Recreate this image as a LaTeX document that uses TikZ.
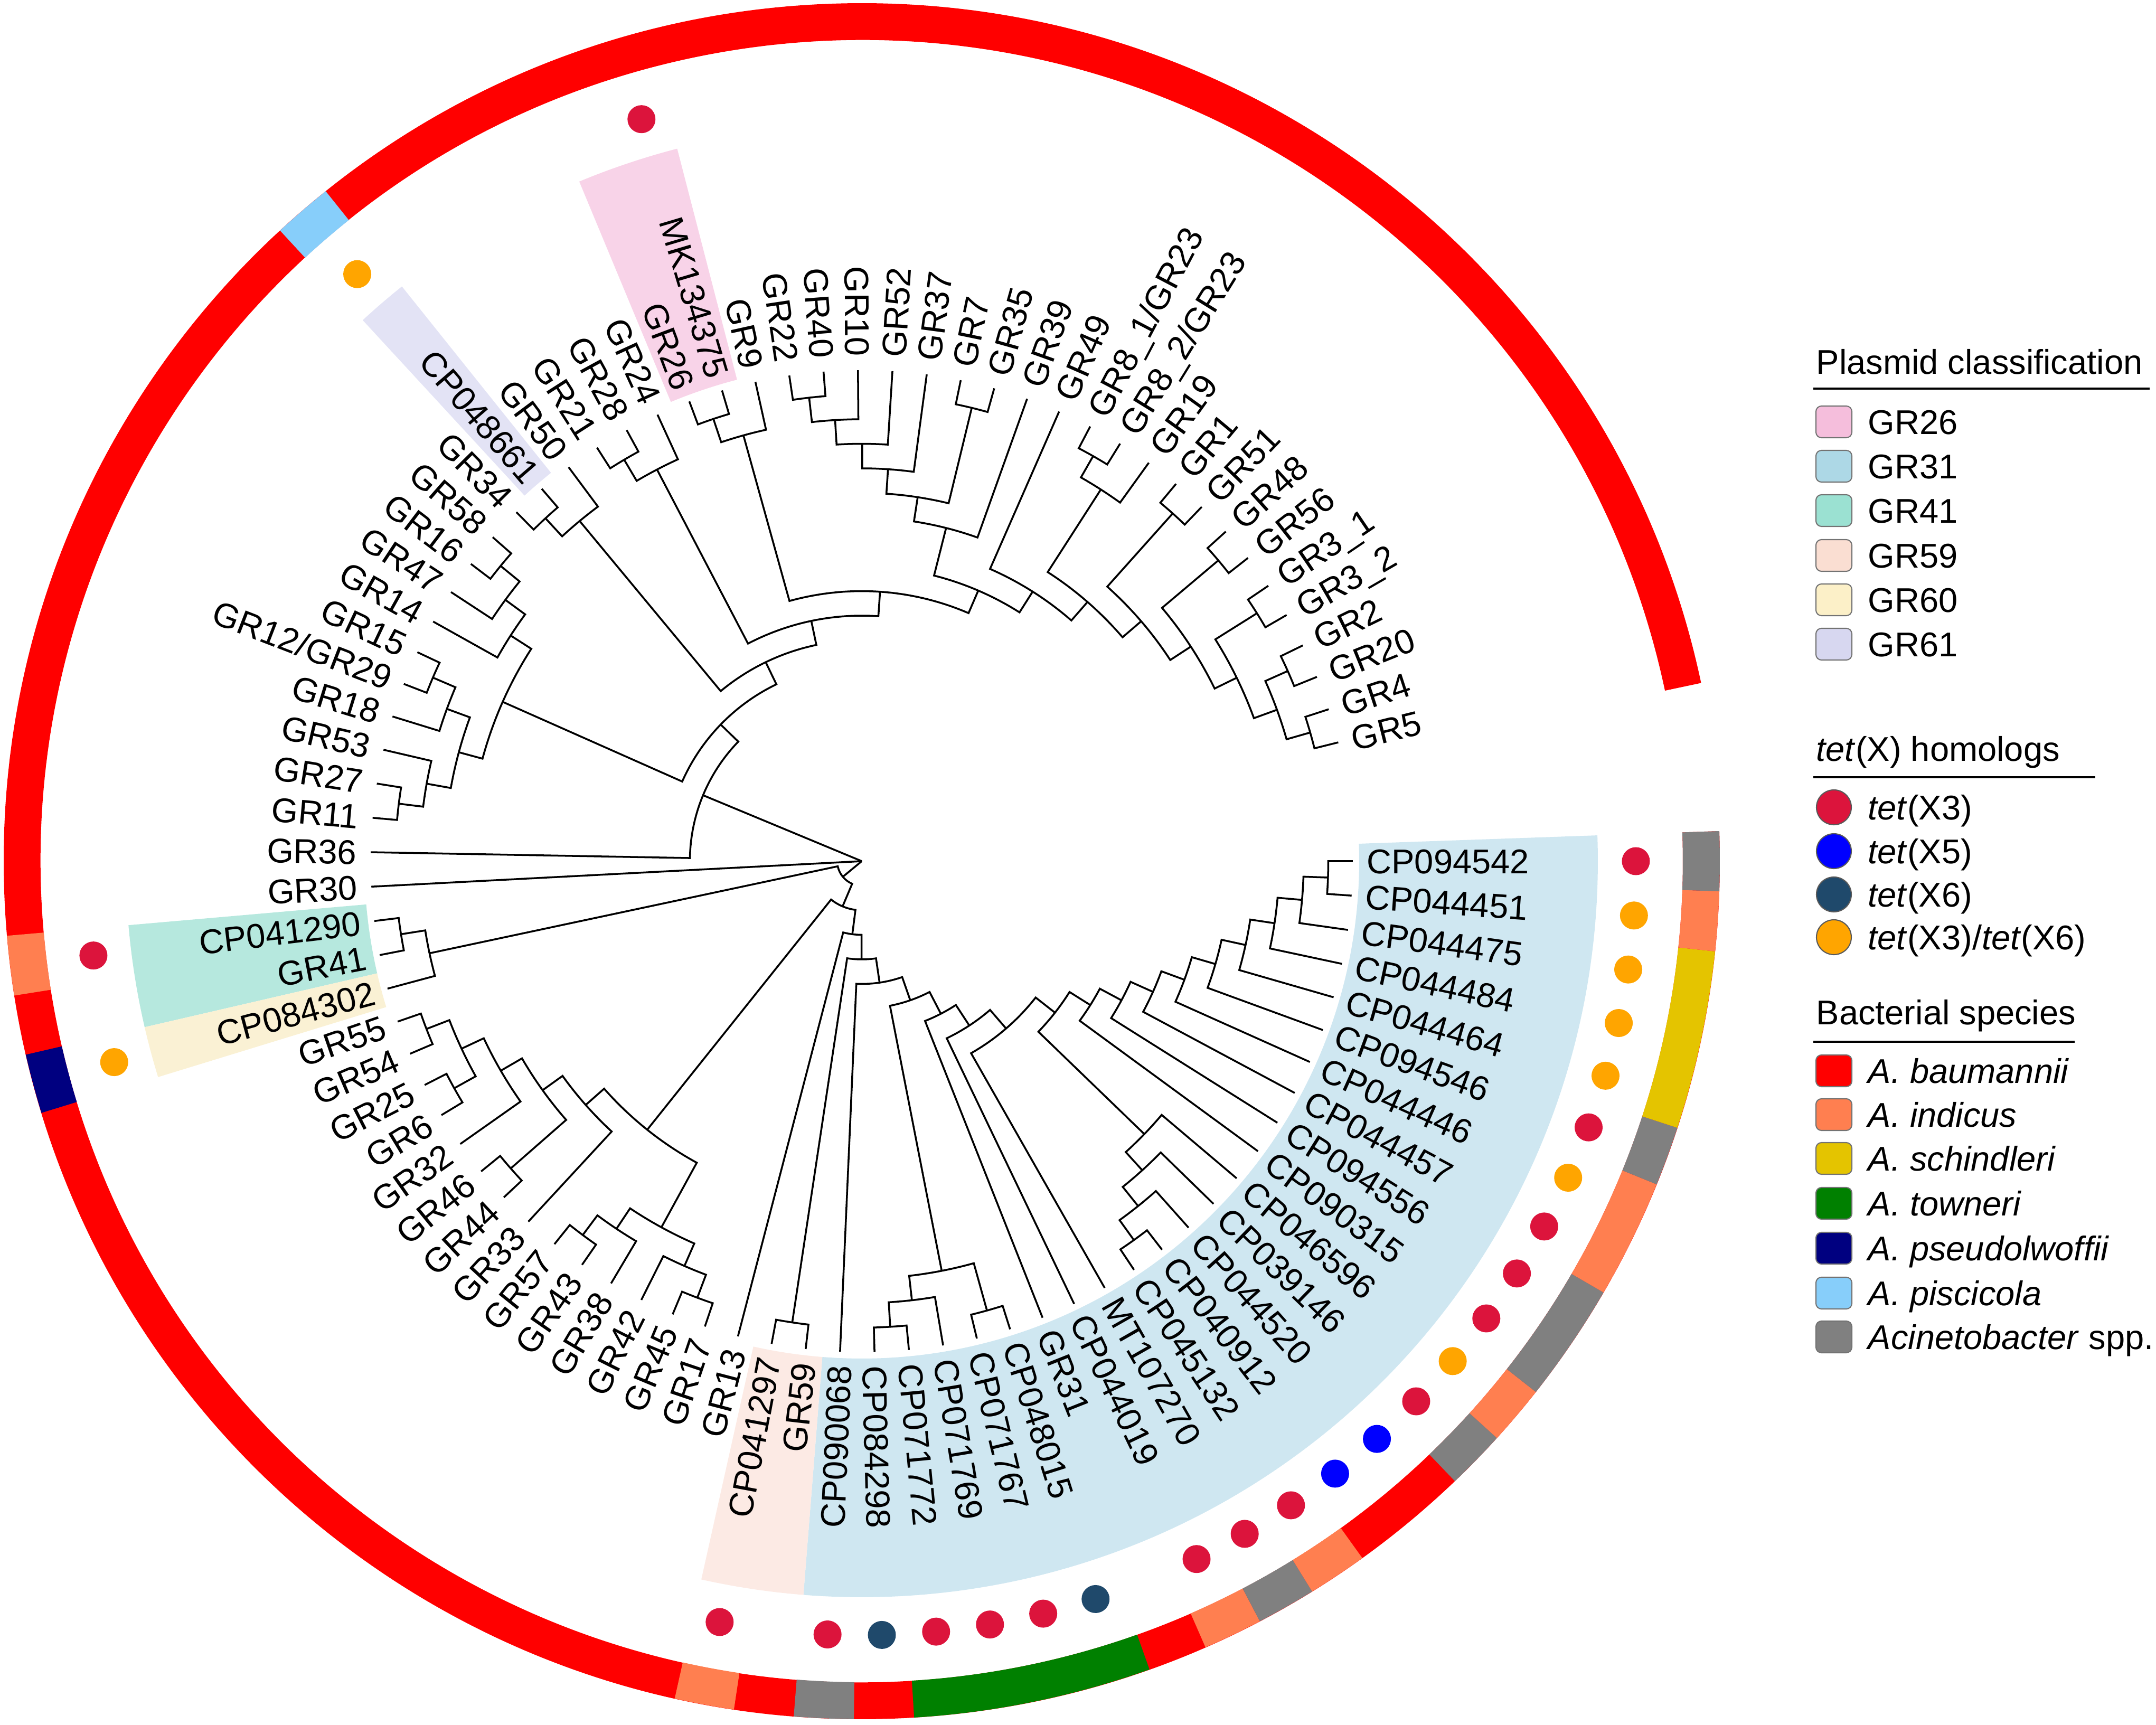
\documentclass[tikz,border=0pt]{standalone}
\usepackage{fontspec}
\setmainfont{Liberation Sans}
\definecolor{cXiii}{RGB}{220,20,60}
\definecolor{cXv}{RGB}{0,0,255}
\definecolor{cXvi}{RGB}{31,73,107}
\definecolor{cXmix}{RGB}{255,165,0}
\definecolor{sBau}{RGB}{255,0,0}
\definecolor{sInd}{RGB}{255,127,80}
\definecolor{sSch}{RGB}{228,196,0}
\definecolor{sTow}{RGB}{0,128,0}
\definecolor{sPse}{RGB}{0,0,128}
\definecolor{sPis}{RGB}{135,206,250}
\definecolor{sSpp}{RGB}{128,128,128}
\definecolor{bGa}{RGB}{248,211,232}
\definecolor{bGb}{RGB}{207,231,241}
\definecolor{bGc}{RGB}{182,232,222}
\definecolor{bGd}{RGB}{252,234,228}
\definecolor{bGe}{RGB}{250,241,212}
\definecolor{bGf}{RGB}{227,227,245}
\definecolor{kGa}{RGB}{245,190,220}
\definecolor{kGb}{RGB}{173,216,230}
\definecolor{kGc}{RGB}{155,225,210}
\definecolor{kGd}{RGB}{250,222,210}
\definecolor{kGe}{RGB}{252,240,200}
\definecolor{kGf}{RGB}{215,215,240}

\newcommand\TreeNode[3]{%
  \pgfmathsetmacro\TzA{\csname a@#2\endcsname}%
  \pgfmathsetmacro\TzB{\csname a@#3\endcsname}%
  \pgfmathsetmacro\TzRA{\csname r@#2\endcsname}%
  \pgfmathsetmacro\TzRB{\csname r@#3\endcsname}%
  \pgfmathsetmacro\TzH{max(\csname h@#2\endcsname,\csname h@#3\endcsname)+1}%
  \pgfmathsetmacro\TzM{(\TzA+\TzB)/2}%
  \pgfmathsetmacro\TzR{0.465*(20-\TzH)}%
  \expandafter\xdef\csname a@#1\endcsname{\TzM}%
  \expandafter\xdef\csname r@#1\endcsname{\TzR}%
  \expandafter\xdef\csname h@#1\endcsname{\TzH}%
  \draw[br] (\TzA:\TzRA) -- (\TzA:\TzR) arc[start angle=\TzA, end angle=\TzB, radius=\TzR] -- (\TzB:\TzRB);
  \coordinate (n#1) at (\TzM:\TzR);
}
\newcommand\TipLab[2]{%
  \pgfmathsetmacro\TzA{\csname a@l#1\endcsname}%
  \pgfmathtruncatemacro\TzL{(\TzA>90)&&(\TzA<270)}%
  \ifnum\TzL=1\relax
    \node[lbl,anchor=east,rotate=\TzA-180] (lab#1) at (\TzA:9.56) {#2};%
  \else
    \node[lbl,anchor=west,rotate=\TzA] (lab#1) at (\TzA:9.56) {#2};%
  \fi}
\newcommand\RingRange[3]{%
  \pgfmathsetmacro\TzA{\csname a@l#1\endcsname-2.0116}%
  \pgfmathsetmacro\TzB{\csname a@l#2\endcsname+2.0116}%
  \fill[#3] (\TzA:15.55) arc[start angle=\TzA, end angle=\TzB, radius=15.55] -- (\TzB:16.25) arc[start angle=\TzB, end angle=\TzA, radius=16.25] -- cycle;}
\newcommand\CladeBand[3]{%
  \pgfmathsetmacro\TzA{\csname a@l#1\endcsname-2.0116}%
  \pgfmathsetmacro\TzB{\csname a@l#2\endcsname+2.0116}%
  \fill[#3] (\TzA:9.42) arc[start angle=\TzA, end angle=\TzB, radius=9.42] -- (\TzB:13.94) arc[start angle=\TzB, end angle=\TzA, radius=13.94] -- cycle;}
\newcommand\TetDot[2]{%
  \pgfmathsetmacro\TzA{\csname a@l#1\endcsname}%
  \fill[#2] (\TzA:14.66) circle (0.265);}

\begin{document}
\begin{tikzpicture}[
  br/.style={line width=1pt, line join=miter},
  lbl/.style={font=\fontsize{18.5}{20}\selectfont, inner sep=0pt, text height=13.3pt, text depth=0pt},
  lgd/.style={font=\fontsize{18.5}{20}\selectfont, inner sep=0pt, anchor=west, text height=13.3pt, text depth=0pt},
  hdr/.style={font=\fontsize{18.5}{20}\selectfont, inner sep=0pt, anchor=base west},
  lbox/.style={draw=black!55, line width=0.6pt, rounded corners=3pt, minimum width=0.68cm, minimum height=0.6cm, inner sep=0pt},
  ldot/.style={circle, draw=black!65, line width=0.6pt, minimum size=0.66cm, inner sep=0pt}]
\useasboundingbox (-16.32,-16.36) rectangle (24.51,16.31);

% leaf positions
\foreach \k in {1,...,87}{%
  \pgfmathsetmacro\TzT{14+(\k-1)*4.02326}%
  \expandafter\xdef\csname a@l\k\endcsname{\TzT}%
  \expandafter\xdef\csname r@l\k\endcsname{9.3}%
  \expandafter\xdef\csname h@l\k\endcsname{0}%
  \coordinate (tip\k) at (\TzT:9.3);
}

% plasmid classification bands
\CladeBand{64}{87}{bGb}
\CladeBand{62}{63}{bGd}
\CladeBand{44}{45}{bGc}
\CladeBand{46}{46}{bGe}
\CladeBand{24}{25}{bGa}
\CladeBand{30}{30}{bGf}

% tree
\TreeNode{A1}{l2}{l1}
\TreeNode{A3}{l4}{l3}
\TreeNode{A2}{A3}{A1}
\TreeNode{A5}{l6}{l5}
\TreeNode{A4}{A5}{A2}
\TreeNode{A7}{l8}{l7}
\TreeNode{A6}{A7}{A4}
\TreeNode{G1}{l10}{l9}
\TreeNode{R3}{G1}{A6}
\TreeNode{B1}{l13}{l12}
\TreeNode{B2}{B1}{l11}
\TreeNode{R2}{B2}{R3}
\TreeNode{R1}{l14}{R2}
\TreeNode{C1}{l22}{l21}
\TreeNode{C2}{C1}{l20}
\TreeNode{C3}{C2}{l19}
\TreeNode{C4}{C3}{l18}
\TreeNode{C5}{l17}{l16}
\TreeNode{C6}{C4}{C5}
\TreeNode{C7}{C6}{l15}
\TreeNode{Y}{C7}{R1}
\TreeNode{D1}{l25}{l24}
\TreeNode{D2}{D1}{l23}
\TreeNode{E1}{D2}{Y}
\TreeNode{H1}{l28}{l27}
\TreeNode{H2}{H1}{l26}
\TreeNode{J1}{H2}{E1}
\TreeNode{K1}{l31}{l30}
\TreeNode{K}{K1}{l29}
\TreeNode{J2}{K}{J1}
\TreeNode{L1}{l33}{l32}
\TreeNode{L2}{l34}{L1}
\TreeNode{L3}{l35}{L2}
\TreeNode{N1}{l37}{l36}
\TreeNode{N2}{l38}{N1}
\TreeNode{N4}{l41}{l40}
\TreeNode{N5}{N4}{l39}
\TreeNode{N3}{N5}{N2}
\TreeNode{L4}{N3}{L3}
\TreeNode{J3}{L4}{J2}
\TreeNode{TOP}{l42}{J3}
\TreeNode{O1}{l45}{l44}
\TreeNode{O}{l46}{O1}
\TreeNode{Q1}{l48}{l47}
\TreeNode{Q3}{l50}{l49}
\TreeNode{Q2}{Q3}{Q1}
\TreeNode{Q4}{l51}{Q2}
\TreeNode{Q6}{l53}{l52}
\TreeNode{Q5}{Q6}{Q4}
\TreeNode{Q7}{l54}{Q5}
\TreeNode{Q12}{l56}{l55}
\TreeNode{Q10}{l57}{Q12}
\TreeNode{Q13}{l60}{l59}
\TreeNode{Q11}{Q13}{l58}
\TreeNode{Q9}{Q11}{Q10}
\TreeNode{Q8}{Q9}{Q7}
\TreeNode{S1}{l63}{l62}
\TreeNode{T3}{l66}{l65}
\TreeNode{T1}{l67}{T3}
\TreeNode{T2}{l69}{l68}
\TreeNode{T}{T2}{T1}
\TreeNode{U3}{l74}{l73}
\TreeNode{U2}{l75}{U3}
\TreeNode{U1}{l76}{U2}
\TreeNode{U}{l77}{U1}
\TreeNode{V9}{l87}{l86}
\TreeNode{V8}{V9}{l85}
\TreeNode{V7}{V8}{l84}
\TreeNode{V6}{V7}{l83}
\TreeNode{V5}{V6}{l82}
\TreeNode{V4}{V5}{l81}
\TreeNode{V3}{V4}{l80}
\TreeNode{V2}{V3}{l79}
\TreeNode{V1}{V2}{l78}
\TreeNode{P9}{V1}{U}
\TreeNode{P8}{P9}{l72}
\TreeNode{P7}{P8}{l71}
\TreeNode{P6}{P7}{l70}
\TreeNode{P5}{P6}{T}
\TreeNode{P4}{P5}{l64}
\TreeNode{P3}{P4}{S1}
\TreeNode{P2}{P3}{l61}
\TreeNode{P}{P2}{Q8}
\TreeNode{M}{P}{O}
\coordinate (root) at (0,0);
\draw[br] (root) -- (nTOP);
\draw[br] (root) -- (tip43);
\draw[br] (root) -- (nM);

% tip labels
\TipLab{1}{GR5}
\TipLab{2}{GR4}
\TipLab{3}{GR20}
\TipLab{4}{GR2}
\TipLab{5}{GR3\_2}
\TipLab{6}{GR3\_1}
\TipLab{7}{GR56}
\TipLab{8}{GR48}
\TipLab{9}{GR51}
\TipLab{10}{GR1}
\TipLab{11}{GR19}
\TipLab{12}{GR8\_2/GR23}
\TipLab{13}{GR8\_1/GR23}
\TipLab{14}{GR49}
\TipLab{15}{GR39}
\TipLab{16}{GR35}
\TipLab{17}{GR7}
\TipLab{18}{GR37}
\TipLab{19}{GR52}
\TipLab{20}{GR10}
\TipLab{21}{GR40}
\TipLab{22}{GR22}
\TipLab{23}{GR9}
\TipLab{24}{MK134375}
\TipLab{25}{GR26}
\TipLab{26}{GR24}
\TipLab{27}{GR28}
\TipLab{28}{GR21}
\TipLab{29}{GR50}
\TipLab{30}{CP048661}
\TipLab{31}{GR34}
\TipLab{32}{GR58}
\TipLab{33}{GR16}
\TipLab{34}{GR47}
\TipLab{35}{GR14}
\TipLab{36}{GR15}
\TipLab{37}{GR12/GR29}
\TipLab{38}{GR18}
\TipLab{39}{GR53}
\TipLab{40}{GR27}
\TipLab{41}{GR11}
\TipLab{42}{GR36}
\TipLab{43}{GR30}
\TipLab{44}{CP041290}
\TipLab{45}{GR41}
\TipLab{46}{CP084302}
\TipLab{47}{GR55}
\TipLab{48}{GR54}
\TipLab{49}{GR25}
\TipLab{50}{GR6}
\TipLab{51}{GR32}
\TipLab{52}{GR46}
\TipLab{53}{GR44}
\TipLab{54}{GR33}
\TipLab{55}{GR57}
\TipLab{56}{GR43}
\TipLab{57}{GR38}
\TipLab{58}{GR42}
\TipLab{59}{GR45}
\TipLab{60}{GR17}
\TipLab{61}{GR13}
\TipLab{62}{CP041297}
\TipLab{63}{GR59}
\TipLab{64}{CP090068}
\TipLab{65}{CP084298}
\TipLab{66}{CP071772}
\TipLab{67}{CP071769}
\TipLab{68}{CP071767}
\TipLab{69}{CP048015}
\TipLab{70}{GR31}
\TipLab{71}{CP044019}
\TipLab{72}{MT107270}
\TipLab{73}{CP045132}
\TipLab{74}{CP040912}
\TipLab{75}{CP044520}
\TipLab{76}{CP039146}
\TipLab{77}{CP046596}
\TipLab{78}{CP090315}
\TipLab{79}{CP094556}
\TipLab{80}{CP044457}
\TipLab{81}{CP044446}
\TipLab{82}{CP094546}
\TipLab{83}{CP044464}
\TipLab{84}{CP044484}
\TipLab{85}{CP044475}
\TipLab{86}{CP044451}
\TipLab{87}{CP094542}

% tet(X) dots
\TetDot{24}{cXiii}
\TetDot{30}{cXmix}
\TetDot{44}{cXiii}
\TetDot{46}{cXmix}
\TetDot{62}{cXiii}
\TetDot{64}{cXiii}
\TetDot{65}{cXvi}
\TetDot{66}{cXiii}
\TetDot{67}{cXiii}
\TetDot{68}{cXiii}
\TetDot{69}{cXvi}
\TetDot{71}{cXiii}
\TetDot{72}{cXiii}
\TetDot{73}{cXiii}
\TetDot{74}{cXv}
\TetDot{75}{cXv}
\TetDot{76}{cXiii}
\TetDot{77}{cXmix}
\TetDot{78}{cXiii}
\TetDot{79}{cXiii}
\TetDot{80}{cXiii}
\TetDot{81}{cXmix}
\TetDot{82}{cXiii}
\TetDot{83}{cXmix}
\TetDot{84}{cXmix}
\TetDot{85}{cXmix}
\TetDot{86}{cXmix}
\TetDot{87}{cXiii}

% species ring
\RingRange{1}{87}{sBau}
\RingRange{30}{30}{sPis}
\RingRange{44}{44}{sInd}
\RingRange{46}{46}{sPse}
\RingRange{62}{62}{sInd}
\RingRange{64}{64}{sSpp}
\RingRange{66}{69}{sTow}
\RingRange{71}{71}{sInd}
\RingRange{72}{72}{sSpp}
\RingRange{73}{73}{sInd}
\RingRange{76}{76}{sSpp}
\RingRange{77}{77}{sInd}
\RingRange{78}{79}{sSpp}
\RingRange{80}{81}{sInd}
\RingRange{82}{82}{sSpp}
\RingRange{83}{85}{sSch}
\RingRange{86}{86}{sInd}
\RingRange{87}{87}{sSpp}

% legend: plasmid classification
\node[hdr] (hplas) at (18.07,9.22) {Plasmid classification};
\draw[line width=1pt] (18.02,8.95) -- (24.39,8.95);
\node[lbox,fill=kGa] (ka) at (18.41,8.32) {};
\node[lgd] (ta) at (19.05,8.32) {GR26};
\node[lbox,fill=kGb] (kb) at (18.41,7.48) {};
\node[lgd] (tb) at (19.05,7.48) {GR31};
\node[lbox,fill=kGc] (kc) at (18.41,6.64) {};
\node[lgd] (tc) at (19.05,6.64) {GR41};
\node[lbox,fill=kGd] (kd) at (18.41,5.79) {};
\node[lgd] (td) at (19.05,5.79) {GR59};
\node[lbox,fill=kGe] (ke) at (18.41,4.95) {};
\node[lgd] (te) at (19.05,4.95) {GR60};
\node[lbox,fill=kGf] (kf) at (18.41,4.11) {};
\node[lgd] (tf) at (19.05,4.11) {GR61};

% legend: tet(X) homologs
\node[hdr] (htet) at (18.07,1.89) {\textit{tet}(X) homologs};
\draw[line width=1pt] (18.02,1.59) -- (23.36,1.59);
\node[ldot,fill=cXiii] (da) at (18.41,1.02) {};
\node[lgd] (ua) at (19.05,1.02) {\textit{tet}(X3)};
\node[ldot,fill=cXv] (db) at (18.41,0.19) {};
\node[lgd] (ub) at (19.05,0.19) {\textit{tet}(X5)};
\node[ldot,fill=cXvi] (dc) at (18.41,-0.63) {};
\node[lgd] (uc) at (19.05,-0.63) {\textit{tet}(X6)};
\node[ldot,fill=cXmix] (dd) at (18.41,-1.44) {};
\node[lgd] (ud) at (19.05,-1.44) {\textit{tet}(X3)/\textit{tet}(X6)};

% legend: bacterial species
\node[hdr] (hspec) at (18.07,-3.09) {Bacterial species};
\draw[line width=1pt] (18.02,-3.42) -- (22.97,-3.42);
\node[lbox,fill=sBau] (sa) at (18.41,-3.97) {};
\node[lgd] (va) at (19.05,-3.97) {\textit{A. baumannii}};
\node[lbox,fill=sInd] (sb) at (18.41,-4.80) {};
\node[lgd] (vb) at (19.05,-4.80) {\textit{A. indicus}};
\node[lbox,fill=sSch] (sc) at (18.41,-5.63) {};
\node[lgd] (vc) at (19.05,-5.63) {\textit{A. schindleri}};
\node[lbox,fill=sTow] (sd) at (18.41,-6.48) {};
\node[lgd] (vd) at (19.05,-6.48) {\textit{A. towneri}};
\node[lbox,fill=sPse] (se) at (18.41,-7.33) {};
\node[lgd] (ve) at (19.05,-7.33) {\textit{A. pseudolwoffii}};
\node[lbox,fill=sPis] (sf) at (18.41,-8.18) {};
\node[lgd] (vf) at (19.05,-8.18) {\textit{A. piscicola}};
\node[lbox,fill=sSpp] (sg) at (18.41,-9.01) {};
\node[lgd] (vg) at (19.05,-9.01) {\textit{Acinetobacter} spp.};
\end{tikzpicture}
\end{document}
